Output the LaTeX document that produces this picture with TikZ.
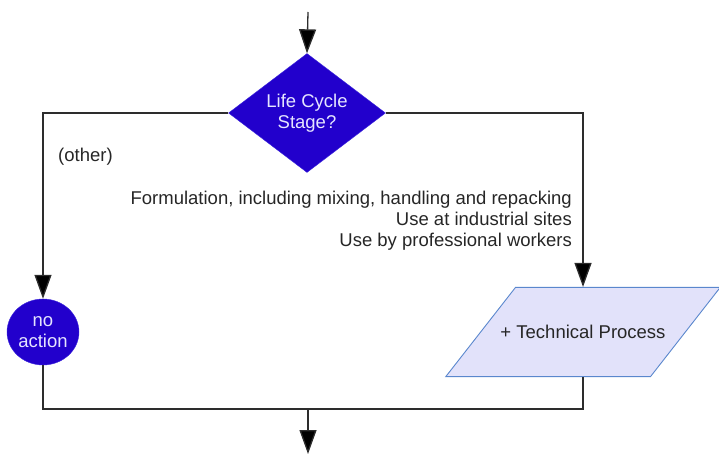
\documentclass[tikz,border=0pt]{standalone}
\usepackage{fontspec}
\setmainfont{Liberation Sans}
\usetikzlibrary{shapes.geometric, arrows.meta}

\definecolor{decblue}{RGB}{34,0,204}
\definecolor{decedge}{RGB}{60,40,220}
\definecolor{procfill}{RGB}{226,226,250}
\definecolor{procedge}{RGB}{90,135,205}
\definecolor{flowline}{RGB}{45,45,45}

\tikzset{
	flow/.style={draw=flowline, line width=1.3pt},
	flowarrow/.style={flow, -{Triangle[length=24pt, width=17pt, fill=black]}},
	decision/.style={diamond, fill=decblue, draw=decedge, text=white!90!blue, align=center, inner sep=0pt, minimum width=157pt, minimum height=116pt},
	terminal/.style={ellipse, fill=decblue, draw=decedge, text=white!90!blue, align=center, inner sep=0pt, minimum width=72pt, minimum height=66pt},
	process/.style={trapezium, trapezium left angle=52, trapezium right angle=128, fill=procfill, draw=procedge, line width=0.9pt, inner xsep=-15pt, inner ysep=37.8pt, text=black!85},
	caption/.style={text=black!85, inner sep=0pt}
}

\begin{document}
\begin{tikzpicture}[x=1pt, y=-1pt, font=\fontsize{18.5}{20.5}\selectfont]
	\useasboundingbox (0,0) rectangle (719,454);

	%entry and exit of the block
	\coordinate (entry) at (308,12);
	\coordinate (join) at (308,409);
	\coordinate (exit) at (308,454);

	%the decision and its two outcomes
	\node[decision] (stage) at (307,113) {Life Cycle\\Stage?};
	\node[terminal] (noact) at (43,332) {no\\action};
	\node[process] (techproc) at (583,332) {+ Technical Process};

	%branch labels
	\node[caption, anchor=base west] (otherlbl) at (58,162) {(other)};
	\node[caption, anchor=base east, align=right] (uselbl) at (572,246) {Formulation, including mixing, handling and repacking\\Use at industrial sites\\Use by professional workers};

	%connectors
	\draw[flowarrow] (entry) -- (stage.north);
	\draw[flowarrow] (stage.west) -| (noact.north);
	\draw[flowarrow] (stage.east) -| (techproc.north);
	\draw[flow] (noact.south) |- (join);
	\draw[flow] (techproc.south) |- (join);
	\draw[flowarrow] (join) -- (exit);

\end{tikzpicture}
\end{document}
